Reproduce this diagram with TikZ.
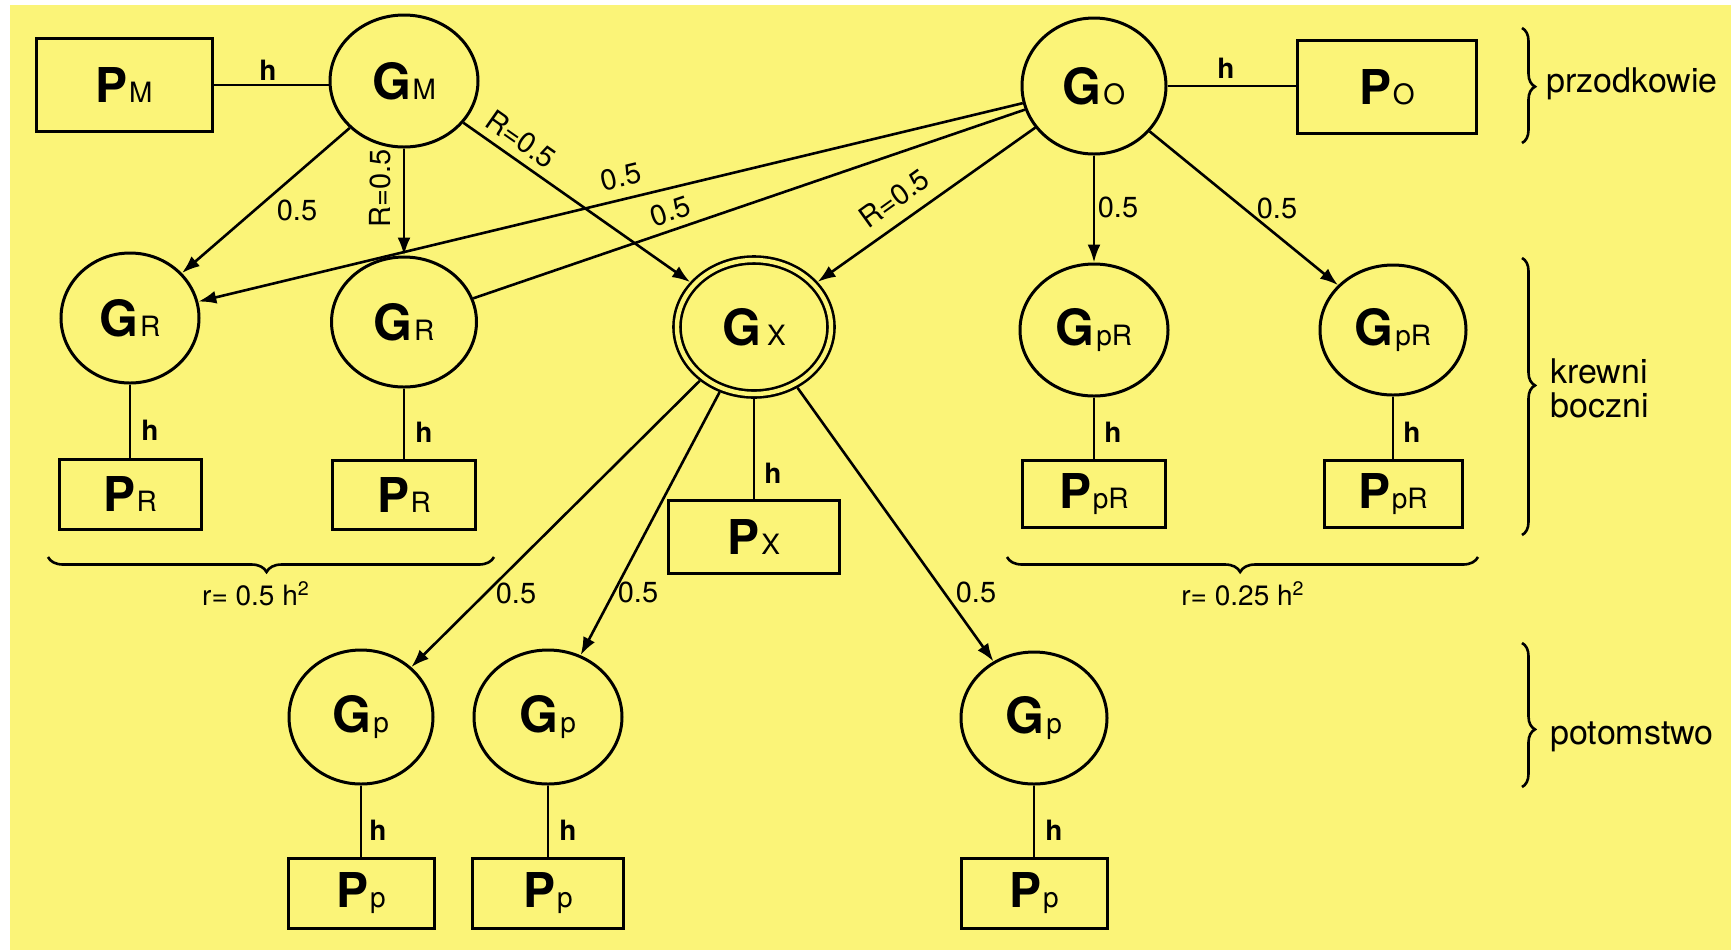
\documentclass[tikz,border=0pt]{standalone}
\usepackage{fontspec}
\setmainfont{TeX Gyre Heros}
\usetikzlibrary{arrows.meta,decorations.pathreplacing,shapes.geometric,calc}
\definecolor{bgyellow}{RGB}{251,244,120}
\newcommand{\Gn}[1]{{\bfseries\fontsize{25}{25}\selectfont G}\kern0.8pt{\fontsize{14}{14}\selectfont #1}}
\newcommand{\Pn}[1]{{\bfseries\fontsize{24}{24}\selectfont P}\kern0.8pt{\fontsize{14}{14}\selectfont #1}}
\newcommand{\GXlab}{{\bfseries\fontsize{25}{25}\selectfont G}\kern3pt{\fontsize{14}{14}\selectfont X}}
\begin{document}
\begin{tikzpicture}[x=0.5pt,y=-0.5pt,
  gnode/.style={ellipse, draw, line width=1.5pt, minimum width=72pt, minimum height=67pt, inner sep=0pt},
  pbox/.style={rectangle, draw, line width=1.5pt, inner sep=0pt},
  arr/.style={line width=1.3pt, -{Latex[length=9pt,width=6.5pt]}},
  lnk/.style={line width=1.3pt},
  num/.style={inner sep=0pt, font=\fontsize{14.5}{14.5}\selectfont},
  hlab/.style={inner sep=0pt, font=\bfseries\fontsize{14}{14}\selectfont},
  side/.style={inner sep=0pt, font=\fontsize{17}{17}\selectfont, anchor=base west},
  rlab/.style={inner sep=0pt, font=\fontsize{14}{14}\selectfont},
  brc/.style={line width=1.3pt, decorate}]
\fill[white] (0,0) rectangle (1731,950);
\fill[bgyellow] (10,5) rectangle (1731,950);
\useasboundingbox (0,0) rectangle (1731,950);

% ancestors
\node[gnode, minimum width=74pt, minimum height=66pt] (GM) at (404,81) {\Gn{M}};
\node[gnode, minimum width=72pt, minimum height=68pt] (GO) at (1094,86) {\Gn{O}};
\node[pbox, minimum width=88pt, minimum height=46.5pt] (PM) at (124,85) {\Pn{M}};
\node[pbox, minimum width=89.5pt, minimum height=46.5pt] (PO) at (1387,87) {\Pn{O}};

% lateral relatives and proband
\node[gnode, minimum width=69pt, minimum height=65pt] (GR1) at (130,318) {\Gn{R}};
\node[gnode, minimum width=72.5pt, minimum height=65pt] (GR2) at (404,322) {\Gn{R}};
\node[gnode, minimum width=77pt, minimum height=67pt, double=bgyellow, double distance=2.2pt, line width=1.3pt, outer sep=2.4pt] (GX) at (754,327) {\GXlab};
\node[gnode, minimum width=74pt, minimum height=66pt] (GpR1) at (1094,330) {\Gn{pR}};
\node[gnode, minimum width=73pt, minimum height=65pt] (GpR2) at (1393,330) {\Gn{pR}};
\node[pbox, minimum width=71pt, minimum height=35pt] (PR1) at (130,494) {\Pn{R}};
\node[pbox, minimum width=71.5pt, minimum height=34.5pt] (PR2) at (404,495) {\Pn{R}};
\node[pbox, minimum width=85.5pt, minimum height=36.5pt] (PX) at (754,537) {\Pn{X}};
\node[pbox, minimum width=71.5pt, minimum height=33.5pt] (PpR1) at (1094,494) {\Pn{pR}};
\node[pbox, minimum width=69pt, minimum height=33.5pt] (PpR2) at (1393,494) {\Pn{pR}};

% offspring
\node[gnode] (Gp1) at (361,717) {\Gn{p}};
\node[gnode, minimum width=74pt] (Gp2) at (548,717) {\Gn{p}};
\node[gnode, minimum width=73pt, minimum height=66pt] (Gp3) at (1034,718) {\Gn{p}};
\node[pbox, minimum width=73pt, minimum height=35pt] (Pp1) at (361,893) {\Pn{p}};
\node[pbox, minimum width=75.5pt, minimum height=35pt] (Pp2) at (548,893) {\Pn{p}};
\node[pbox, minimum width=73pt, minimum height=35pt] (Pp3) at (1034,893) {\Pn{p}};

% connectors
\draw[lnk] (PM.east) -- (PM.east -| GM.west);
\draw[lnk] (GO.east) -- (GO.east -| PO.west);
\draw[arr] (GM) -- (GR1);
\draw[arr] (GM) -- (GR2);
\draw[arr] (GM) -- (GX);
\draw[arr] (GO) -- (GR1);
\draw[lnk] (GO) -- (GR2);
\draw[arr] (GO) -- (GX);
\draw[arr] (GO) -- (GpR1);
\draw[arr] (GO) -- (GpR2);
\draw[lnk] (GR1) -- (PR1);
\draw[lnk] (GR2) -- (PR2);
\draw[lnk] (GX) -- (PX);
\draw[lnk] (GpR1) -- (PpR1);
\draw[lnk] (GpR2) -- (PpR2);
\draw[arr] (GX) -- (Gp1);
\draw[arr] (GX) -- (Gp2);
\draw[arr] (GX) -- (Gp3);
\draw[lnk] (Gp1) -- (Pp1);
\draw[lnk] (Gp2) -- (Pp2);
\draw[lnk] (Gp3) -- (Pp3);

% labels
\node[hlab] (hM) at (268,70) {h};
\node[hlab] (hO) at (1226,68) {h};
\node[num] (l1) at (297,210) {0.5};
\node[num, rotate=90] (l2) at (380,188) {R=0.5};
\node[num, rotate=-35] (l3) at (521,139) {R=0.5};
\node[num, rotate=13.7] (l4) at (621,177) {0.5};
\node[num, rotate=19] (l5) at (670,211) {0.5};
\node[num, rotate=35.7] (l6) at (894,198) {R=0.5};
\node[num] (l7) at (1118,207) {0.5};
\node[num] (l8) at (1277,208) {0.5};
\node[hlab] (hR1) at (150,430) {h};
\node[hlab] (hR2) at (424,432) {h};
\node[hlab] (hX) at (773,473) {h};
\node[hlab] (hpR1) at (1113,432) {h};
\node[hlab] (hpR2) at (1412,432) {h};
\node[num] (c1) at (516,593) {0.5};
\node[num] (c2) at (638,592) {0.5};
\node[num] (c3) at (976,592) {0.5};
\node[hlab] (hp1) at (378,830) {h};
\node[hlab] (hp2) at (568,830) {h};
\node[hlab] (hp3) at (1054,830) {h};

% braces
\draw[brc, decoration={brace, amplitude=7.5pt, aspect=0.51}] (494,557) -- (48,557);
\draw[brc, decoration={brace, amplitude=7.5pt, aspect=0.505}] (1478,557) -- (1007,557);
\node[rlab] (r1) at (256,594) {r= 0.5 h\textsuperscript{2}};
\node[rlab] (r2) at (1243,594) {r= 0.25 h\textsuperscript{2}};
\draw[brc, decoration={brace, amplitude=6.5pt, aspect=0.51}] (1522,28) -- (1522,143);
\draw[brc, decoration={brace, amplitude=6.5pt, aspect=0.46}] (1522,258) -- (1522,535);
\draw[brc, decoration={brace, amplitude=6.5pt, aspect=0.6}] (1522,643) -- (1522,787);
\node[side] (t1) at (1546,92) {przodkowie};
\node[side] (t2) at (1550,383) {krewni};
\node[side] (t3) at (1550,417) {boczni};
\node[side] (t4) at (1550,744) {potomstwo};
\end{tikzpicture}
\end{document}
